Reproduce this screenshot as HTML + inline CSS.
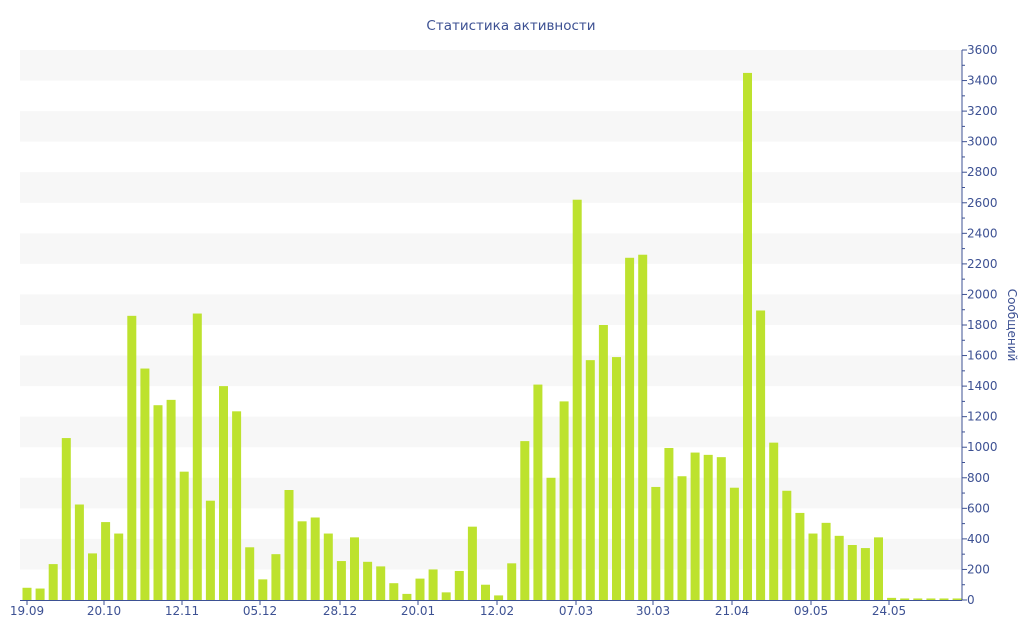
<!DOCTYPE html>
<html><head><meta charset="utf-8"><style>body{margin:0;background:#fff}svg{display:block;font-family:"DejaVu Sans","Liberation Sans",sans-serif}</style></head><body>
<svg id="c" width="1024" height="640" xmlns="http://www.w3.org/2000/svg">
<text x="511" y="30" text-anchor="middle" font-size="13.5" fill="#3d5193">Статистика активности</text>
<g id="g"></g>
</svg>
<script>
const d=[80,75,235,1060,625,305,510,435,1860,1515,1275,1310,840,1875,650,1400,1235,345,135,300,720,515,540,435,255,410,250,220,110,40,140,200,50,190,480,100,30,240,1040,1410,800,1300,2620,1570,1800,1590,2240,2260,740,995,810,965,950,935,735,3450,1895,1030,715,570,435,505,420,360,340,410,14,10,10,10,10,10];
const Y=v=>600-v*550/3600;let s='';
for(let v=200;v<3600;v+=400)s+=`<rect x="20" y="${Y(v+200)}" width="942" height="${550/18}" fill="#f7f7f7"/>`;
d.forEach((v,i)=>{const x=27+i*13.1;s+=`<rect x="${x-4.5}" y="${Y(v)}" width="9" height="${v*550/3600}" fill="#bde22e"/>`});
s+=`<line x1="962" y1="50" x2="962" y2="600" stroke="#3d5193"/><line x1="20" y1="600.5" x2="962" y2="600.5" stroke="#3d5193"/>`;
for(let v=0;v<=3600;v+=100){const y=Y(v);s+=`<line x1="962" y1="${y}" x2="${v%200?965:967}" y2="${y}" stroke="#3d5193"/>`;if(v%200==0)s+=`<text x="967" y="${y+4}" font-size="12" fill="#3d5193">${v}</text>`}
[['19.09',27],['20.10',104],['12.11',182],['05.12',260],['28.12',340],['20.01',418],['12.02',497],['07.03',576],['30.03',653],['21.04',732],['09.05',811],['24.05',889]].forEach(([t,x])=>{s+=`<line x1="${x}" y1="600" x2="${x}" y2="605" stroke="#3d5193"/><text x="${x}" y="615" font-size="12" text-anchor="middle" fill="#3d5193">${t}</text>`});
s+=`<text transform="translate(1008,325) rotate(90)" font-size="12" text-anchor="middle" fill="#3d5193">Сообщений</text>`;
document.getElementById('g').innerHTML=s;
</script>
</body></html>
